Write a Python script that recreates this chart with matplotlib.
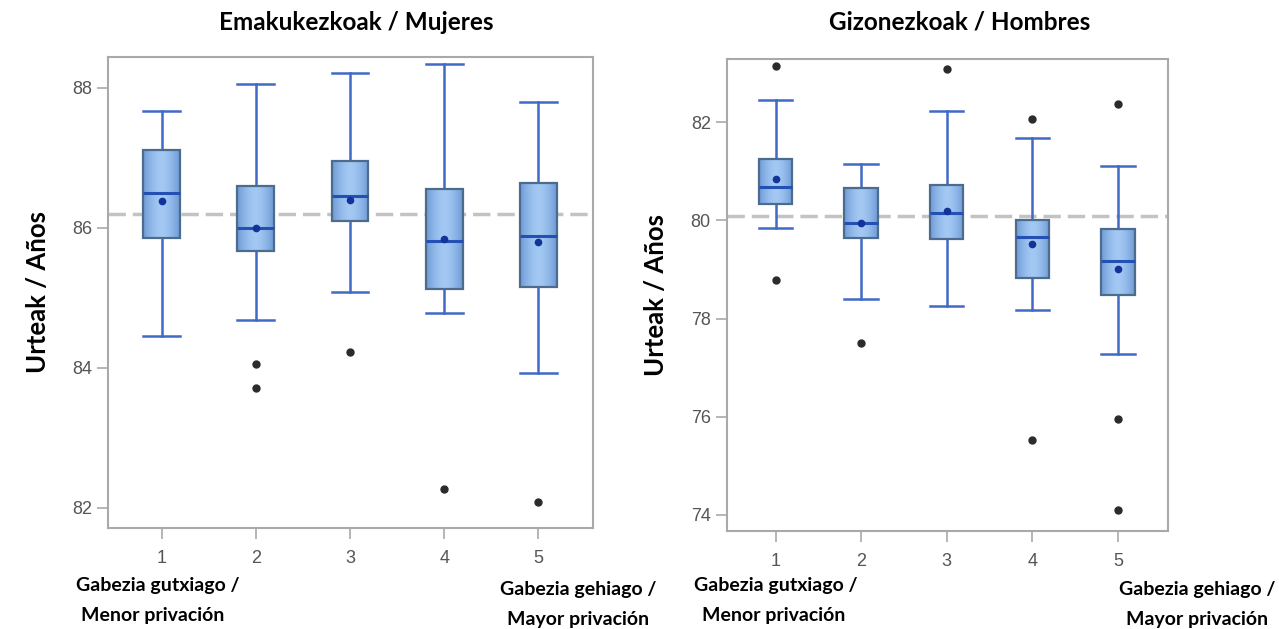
"""Life expectancy by deprivation quintile, women vs men (box plots)."""

import matplotlib

matplotlib.use("Agg")
import matplotlib.pyplot as plt
import numpy as np

QUINTILES = [1, 2, 3, 4, 5]

# Women (Emakumeak / Mujeres)
W_WHISK_LO = [84.46, 84.68, 85.08, 84.78, 83.93]
W_Q1 = [85.85, 85.67, 86.10, 85.12, 85.16]
W_MED = [86.50, 85.99, 86.45, 85.81, 85.88]
W_MEAN = [86.38, 85.99, 86.40, 85.84, 85.80]
W_Q3 = [87.11, 86.60, 86.95, 86.55, 86.64]
W_WHISK_HI = [87.67, 88.05, 88.21, 88.34, 87.79]
W_OUTLIERS = [[], [84.06, 83.71], [84.22], [82.27], [82.08]]
W_REF = 86.20

# Men (Gizonezkoak / Hombres)
M_WHISK_LO = [79.84, 78.40, 78.25, 78.18, 77.28]
M_Q1 = [80.34, 79.65, 79.62, 78.82, 78.47]
M_MED = [80.69, 79.94, 80.16, 79.67, 79.18]
M_MEAN = [80.85, 79.94, 80.20, 79.52, 79.01]
M_Q3 = [81.25, 80.66, 80.72, 80.01, 79.83]
M_WHISK_HI = [82.45, 81.15, 82.22, 81.67, 81.10]
M_OUTLIERS = [[83.15, 78.78], [77.51], [83.08], [82.06, 75.52], [82.38, 75.96, 74.10]]
M_REF = 80.10

FONT = ["Lato", "DejaVu Sans"]
TICK_FONT = ["Liberation Sans Narrow", "Liberation Sans", "DejaVu Sans"]
BOX_W = 0.39
WHISK_COLOR = "#4169c6"
EDGE_COLOR = "#4d6b8c"
TICK_COLOR = "#555555"
SPINE_COLOR = "#a9a9a9"


def draw_panel(ax, lo, q1, med, mean, q3, hi, outliers, ref, ylim, yticks):
    stats = []
    for i in range(len(QUINTILES)):
        stats.append(dict(whislo=lo[i], q1=q1[i], med=med[i], mean=mean[i],
                          q3=q3[i], whishi=hi[i], fliers=outliers[i]))
    ax.axhline(ref, color="#c3c3c3", lw=2.5, ls=(0, (5, 2)), zorder=1)
    ax.bxp(
        stats, positions=QUINTILES, widths=BOX_W, capwidths=BOX_W,
        showmeans=True, patch_artist=True,
        boxprops=dict(facecolor="none", edgecolor=EDGE_COLOR, lw=1.6, zorder=4),
        whiskerprops=dict(color=WHISK_COLOR, lw=1.8, zorder=2),
        capprops=dict(color=WHISK_COLOR, lw=1.8, zorder=2),
        medianprops=dict(color="#2450b4", lw=2.2, zorder=5),
        meanprops=dict(marker="o", markersize=4.5, markerfacecolor="#12339a",
                       markeredgecolor="#12339a", zorder=6),
        flierprops=dict(marker="o", markersize=5, markerfacecolor="#2b2b2b",
                        markeredgecolor="#2b2b2b"),
    )
    # horizontal shading inside the boxes
    grad = np.abs(np.linspace(-1, 1, 64)) ** 1.6
    cmap = matplotlib.colors.LinearSegmentedColormap.from_list(
        "boxshade", ["#a3c8f3", "#6e9bd6"])
    for x, a, b in zip(QUINTILES, q1, q3):
        ax.imshow(grad[None, :], cmap=cmap, aspect="auto", zorder=3,
                  extent=(x - BOX_W / 2, x + BOX_W / 2, a, b))
    ax.set_xlim(0.43, 5.58)
    ax.set_ylim(*ylim)
    ax.set_yticks(yticks)
    ax.set_xticks(QUINTILES)
    ax.tick_params(axis="both", direction="out", length=8, width=1.2,
                   color=SPINE_COLOR, labelcolor=TICK_COLOR, labelsize=13)
    ax.tick_params(axis="x", pad=8)
    for lab in ax.get_xticklabels() + ax.get_yticklabels():
        lab.set_family(TICK_FONT)
    for s in ax.spines.values():
        s.set_color(SPINE_COLOR)
        s.set_linewidth(1.5)
    ax.set_ylabel("Urteak / Años", fontsize=18.5, fontweight="bold",
                  family=FONT, labelpad=16)


fig = plt.figure(figsize=(12.79, 6.29), dpi=100)
ax1 = fig.add_axes([0.0844, 0.1606, 0.3792, 0.7488])
ax2 = fig.add_axes([0.5682, 0.1558, 0.3448, 0.7504])

draw_panel(ax1, W_WHISK_LO, W_Q1, W_MED, W_MEAN, W_Q3, W_WHISK_HI,
           W_OUTLIERS, W_REF, (81.71, 88.44), [82, 84, 86, 88])
draw_panel(ax2, M_WHISK_LO, M_Q1, M_MED, M_MEAN, M_Q3, M_WHISK_HI,
           M_OUTLIERS, M_REF, (73.67, 83.29), [74, 76, 78, 80, 82])

title_kw = dict(fontsize=17.5, fontweight="bold", family=FONT, ha="center", va="center")
fig.text(356 / 1279, 1 - 22 / 629, "Emakukezkoak / Mujeres", **title_kw)
fig.text(960 / 1279, 1 - 22 / 629, "Gizonezkoak / Hombres", **title_kw)

note_kw = dict(fontsize=14, fontweight="bold", family=FONT, ha="center", va="center")
fig.text(158 / 1279, 1 - 585 / 629, "Gabezia gutxiago /", **note_kw)
fig.text(153 / 1279, 1 - 615 / 629, "Menor privación", **note_kw)
fig.text(578 / 1279, 1 - 589 / 629, "Gabezia gehiago /", **note_kw)
fig.text(578 / 1279, 1 - 620 / 629, "Mayor privación", **note_kw)
fig.text(776 / 1279, 1 - 585 / 629, "Gabezia gutxiago /", **note_kw)
fig.text(774 / 1279, 1 - 615 / 629, "Menor privación", **note_kw)
fig.text(1197 / 1279, 1 - 590 / 629, "Gabezia gehiago /", **note_kw)
fig.text(1197 / 1279, 1 - 620 / 629, "Mayor privación", **note_kw)

fig.savefig("out.png", dpi=100)
